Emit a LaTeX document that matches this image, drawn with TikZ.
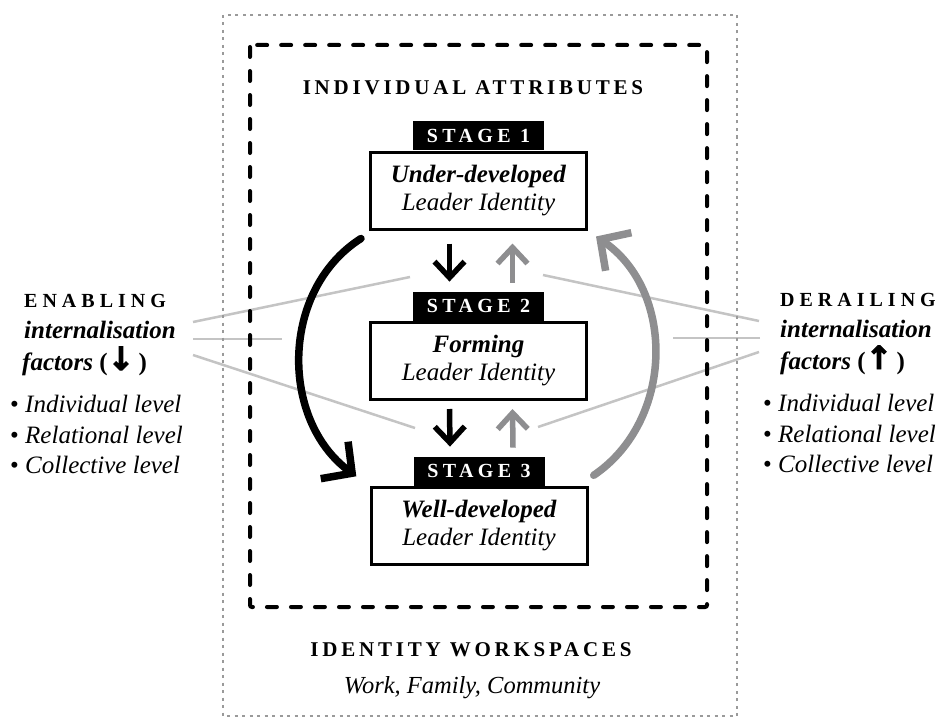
\documentclass[tikz,border=0pt]{standalone}
\usepackage{fontspec}
\setmainfont{Liberation Serif}
\newfontfamily\arrowfont{DejaVu Sans}
\usetikzlibrary{arrows.meta,calc}
\newcommand\lsp[1]{\addfontfeature{LetterSpace=#1}}
\newcommand\heavyarrow[1]{{\arrowfont\bfseries\fontsize{32}{32}\selectfont\addfontfeature{FakeBold=3}#1}}
\definecolor{midgrey}{HTML}{8E8E90}
\definecolor{lightgrey}{HTML}{C4C4C4}
\definecolor{dotgrey}{HTML}{9A9A9A}

\tikzset{
  stagebox/.style={draw, line width=3pt, minimum width=216pt, minimum height=77pt,
    inner sep=0pt, align=center, font=\fontsize{25}{28}\selectfont},
  stagelab/.style={fill=black, text=white, minimum width=131pt, minimum height=29pt,
    inner sep=0pt, font=\fontsize{20}{20}\selectfont\bfseries\lsp{22}},
  heading/.style={inner sep=0pt, font=\fontsize{21}{21}\selectfont\bfseries\lsp{18}},
  sidehead/.style={inner sep=0pt, anchor=base west, font=\fontsize{20}{20}\selectfont\bfseries\lsp{25}},
  sidetext/.style={inner sep=0pt, anchor=base west, font=\fontsize{25}{25}\selectfont},
  downstep/.style={line width=5.5pt, -{Straight Barb[length=16pt,width=30pt]}},
  upstep/.style={downstep, midgrey},
  cycle/.style={line width=7.5pt, line cap=round, -{Straight Barb[length=22pt,width=46pt]}},
  guide/.style={lightgrey, line width=2.5pt},
}

\begin{document}
\begin{tikzpicture}[x=1pt, y=-1pt]
\useasboundingbox (0,0) rectangle (942,717);
\fill[white] (0,0) rectangle (942,717);

% grey guide lines from the side texts towards the centre
\coordinate (enA) at (193,322);  \coordinate (enAend) at (410,277);
\coordinate (enB) at (193,339);  \coordinate (enBend) at (282,339);
\coordinate (enC) at (193,355);  \coordinate (enCend) at (415,428);
\coordinate (deA) at (759,321);  \coordinate (deAend) at (543,275);
\coordinate (deB) at (760,338);  \coordinate (deBend) at (673,338);
\coordinate (deC) at (759,352);  \coordinate (deCend) at (538,427);
\draw[guide] (enA) -- (enAend);
\draw[guide] (enB) -- (enBend);
\draw[guide] (enC) -- (enCend);
\draw[guide] (deA) -- (deAend);
\draw[guide] (deB) -- (deBend);
\draw[guide] (deC) -- (deCend);

% identity workspaces (outer) and individual attributes (inner) frames
\draw[dotgrey, line width=1.8pt, dash pattern=on 3pt off 4.5pt]
  (223,15) rectangle (737,716);
\draw[black, line width=4pt, line cap=round, rounded corners=2pt,
  dash pattern=on 10pt off 14pt] (250,45) rectangle (707,607);

\node[heading] (attr) at (473,88) {INDIVIDUAL ATTRIBUTES};
\node[heading] (work) at (471,650) {IDENTITY WORKSPACES};
\node[inner sep=0pt, anchor=base, font=\fontsize{24.5}{24.5}\selectfont\itshape]
  (places) at (472,693) {Work, Family, Community};

% stages
\node[stagebox] (s1) at (478.5,190.5) {\textbf{\textit{Under-developed}}\\\textit{Leader Identity}};
\node[stagelab, anchor=south] (s1lab) at (s1.north) {STAGE 1};
\node[stagebox] (s2) at (478.5,361) {\textbf{\textit{Forming}}\\\textit{Leader Identity}};
\node[stagelab, anchor=south] (s2lab) at (s2.north) {STAGE 2};
\node[stagebox] (s3) at (479,526) {\textbf{\textit{Well-developed}}\\\textit{Leader Identity}};
\node[stagelab, anchor=south] (s3lab) at (s3.north) {STAGE 3};

% single-step transitions
\draw[downstep] ($(s1.south)+(-29,13)$) -- ($(s2lab.north)+(-29,-10)$);
\draw[upstep]   ($(s2lab.north)+(34,-9)$) -- ($(s1.south)+(34,13)$);
\draw[downstep] ($(s2.south)+(-29,8)$) -- ($(s3lab.north)+(-29,-10)$);
\draw[upstep]   ($(s3lab.north)+(34,-9)$) -- ($(s2.south)+(34,8)$);

% full cycles between stage 1 and stage 3
\coordinate (blkstart) at ($(s1.south west)+(-8,8)$);
\coordinate (blkend)   at ($(s3lab.west)+(-57,5)$);
\draw[cycle] (blkstart) .. controls (280,290) and (280,420) .. (blkend);
\coordinate (grystart) at ($(s3lab.east)+(49,4)$);
\coordinate (gryend)   at ($(s1.south east)+(8,6)$);
\draw[cycle, midgrey] (grystart) .. controls (675,420) and (675,290) .. (gryend);

% enabling factors
\node[sidehead] (enabling) at (24,307) {ENABLING};
\node[sidetext] (enint) at (24,338) {\textbf{\textit{internalisation}}};
\node[sidetext] (enfac) at (22,370) {\textbf{\textit{factors}} \textbf{(}\heavyarrow{↓}\,\textbf{)}};
\node[sidetext] (enind) at (10,412) {• \textit{Individual level}};
\node[sidetext] (enrel) at (10,443) {• \textit{Relational level}};
\node[sidetext] (encol) at (10,473) {• \textit{Collective level}};

% derailing factors
\node[sidehead] (derailing) at (780,306) {DERAILING};
\node[sidetext] (deint) at (780,337) {\textbf{\textit{internalisation}}};
\node[sidetext] (defac) at (780,369) {\textbf{\textit{factors}} \textbf{(}\heavyarrow{↑}\,\textbf{)}};
\node[sidetext] (deind) at (763,411) {• \textit{Individual level}};
\node[sidetext] (derel) at (763,442) {• \textit{Relational level}};
\node[sidetext] (decol) at (763,472) {• \textit{Collective level}};
\end{tikzpicture}
\end{document}
